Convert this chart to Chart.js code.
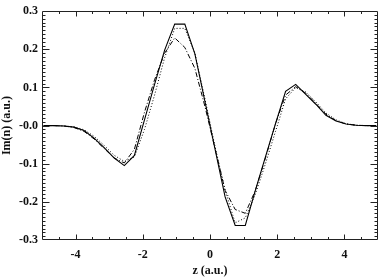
<!DOCTYPE html>
<html>
<head>
<meta charset="utf-8">
<script src="https://cdn.jsdelivr.net/npm/chart.js@4/dist/chart.umd.min.js"></script>
<style>
  html, body { margin: 0; padding: 0; background: #fff; }
  #wrap { width: 380px; height: 278px; position: relative; }
</style>
</head>
<body>
<div id="wrap"><canvas id="c" width="380" height="278"></canvas></div>
<script>
// z positions (a.u.)
const zValues = [-4.95, -4.65, -4.35, -4.05, -3.75, -3.45, -3.15, -2.85, -2.55, -2.25, -1.95, -1.65, -1.35, -1.05, -0.75, -0.45, -0.15,
                 0.15, 0.45, 0.75, 1.05, 1.35, 1.65, 1.95, 2.25, 2.55, 2.85, 3.15, 3.45, 3.75, 4.05, 4.35, 4.65, 4.95];
// solid curve
const solidValues = [0, 0, -0.001, -0.004, -0.013, -0.033, -0.058, -0.085, -0.105, -0.078, 0.015, 0.108, 0.198, 0.266, 0.266, 0.188, 0.063,
                     -0.062, -0.187, -0.262, -0.262, -0.170, -0.082, 0.005, 0.090, 0.108, 0.082, 0.056, 0.027, 0.012, 0.004, 0.001, 0, 0];
// dotted curve
const dottedValues = [0, 0, -0.001, -0.003, -0.011, -0.028, -0.052, -0.078, -0.094, -0.082, -0.010, 0.080, 0.178, 0.255, 0.255, 0.190, 0.070,
                      -0.055, -0.170, -0.255, -0.242, -0.180, -0.100, -0.015, 0.070, 0.100, 0.088, 0.062, 0.033, 0.015, 0.005, 0.001, 0, 0];
// dash-dot curve
const dashDotValues = [0, 0, -0.001, -0.005, -0.015, -0.035, -0.060, -0.085, -0.098, -0.062, 0.035, 0.120, 0.190, 0.230, 0.205, 0.150, 0.050,
                       -0.060, -0.170, -0.220, -0.230, -0.170, -0.085, 0.005, 0.080, 0.102, 0.085, 0.058, 0.030, 0.013, 0.004, 0.001, 0, 0];

const xTicks = [-4, -2, 0, 2, 4];
const yTicks = [-0.3, -0.2, -0.1, 0, 0.1, 0.2, 0.3];
const xRange = [-5, 5];
const yRange = [-0.3, 0.3];
const xMinorStep = 0.5;
const yMinorStep = 0.01;

const toPts = (vals) => zValues.map((z, i) => ({ x: z, y: vals[i] }));

Chart.defaults.font.family = "'Liberation Serif', 'Times New Roman', serif";
Chart.defaults.font.size = 12;
Chart.defaults.font.weight = 'bold';
Chart.defaults.color = '#111';

const frameTicks = {
  id: 'frameTicks',
  afterDatasetsDraw(chart) {
    const { ctx, chartArea: a, scales: { x, y } } = chart;
    ctx.save();
    ctx.strokeStyle = '#222';
    ctx.lineWidth = 1;
    const L = Math.round(a.left) + 0.5, R = Math.round(a.right) - 0.5;
    const T = Math.round(a.top) + 0.5, B = Math.round(a.bottom) - 0.5;
    ctx.beginPath();
    ctx.rect(L, T, R - L, B - T);
    ctx.stroke();
    ctx.beginPath();
    const nx = Math.round((xRange[1] - xRange[0]) / xMinorStep);
    for (let i = 1; i < nx; i++) {
      const v = xRange[0] + i * xMinorStep;
      const major = xTicks.some(t => Math.abs(t - v) < 1e-6);
      const len = major ? 5 : 2.5;
      const px = Math.round(x.getPixelForValue(v)) + 0.5;
      ctx.moveTo(px, B); ctx.lineTo(px, B - len);
      ctx.moveTo(px, T); ctx.lineTo(px, T + len);
    }
    const ny = Math.round((yRange[1] - yRange[0]) / yMinorStep);
    for (let i = 1; i < ny; i++) {
      const v = yRange[0] + i * yMinorStep;
      const major = yTicks.some(t => Math.abs(t - v) < 1e-6);
      const len = major ? 7 : 3;
      const py = Math.round(y.getPixelForValue(v)) + 0.5;
      ctx.moveTo(L, py); ctx.lineTo(L + len, py);
      ctx.moveTo(R, py); ctx.lineTo(R - len, py);
    }
    ctx.stroke();
    ctx.restore();
  }
};

new Chart(document.getElementById('c'), {
  type: 'line',
  data: {
    datasets: [
      { label: 'solid', data: toPts(solidValues), borderColor: '#000', borderWidth: 1.1, pointRadius: 0, tension: 0, fill: false },
      { label: 'dotted', data: toPts(dottedValues), borderColor: '#000', borderWidth: 1, borderDash: [1, 2], pointRadius: 0, tension: 0, fill: false },
      { label: 'dash-dot', data: toPts(dashDotValues), borderColor: '#000', borderWidth: 1, borderDash: [5, 2, 1, 2], pointRadius: 0, tension: 0, fill: false }
    ]
  },
  options: {
    responsive: false,
    animation: false,
    devicePixelRatio: 1,
    layout: { padding: { top: 2, right: 2, left: 0, bottom: 0 } },
    plugins: { legend: { display: false }, tooltip: { enabled: false } },
    scales: {
      x: {
        type: 'linear',
        min: xRange[0], max: xRange[1],
        grid: { display: false, drawTicks: false },
        border: { display: false },
        afterBuildTicks: (s) => { s.ticks = xTicks.map(v => ({ value: v })); },
        afterFit: (s) => { s.height = 38; },
        ticks: { padding: 8, maxRotation: 0, autoSkip: false, callback: (v) => String(v) },
        title: { display: true, text: 'z (a.u.)', padding: { top: 0, bottom: 0 } }
      },
      y: {
        type: 'linear',
        min: yRange[0], max: yRange[1],
        grid: { display: false, drawTicks: false },
        border: { display: false },
        afterBuildTicks: (s) => { s.ticks = yTicks.map(v => ({ value: v })); },
        afterFit: (s) => { s.width = 42; },
        ticks: { padding: 4, autoSkip: false, callback: (v) => (Math.abs(v) < 1e-9 ? '-0.0' : v.toFixed(1)) },
        title: { display: true, text: 'Im(n) (a.u.)', padding: { top: 0, bottom: 0 } }
      }
    }
  },
  plugins: [frameTicks]
});
</script>
</body>
</html>
